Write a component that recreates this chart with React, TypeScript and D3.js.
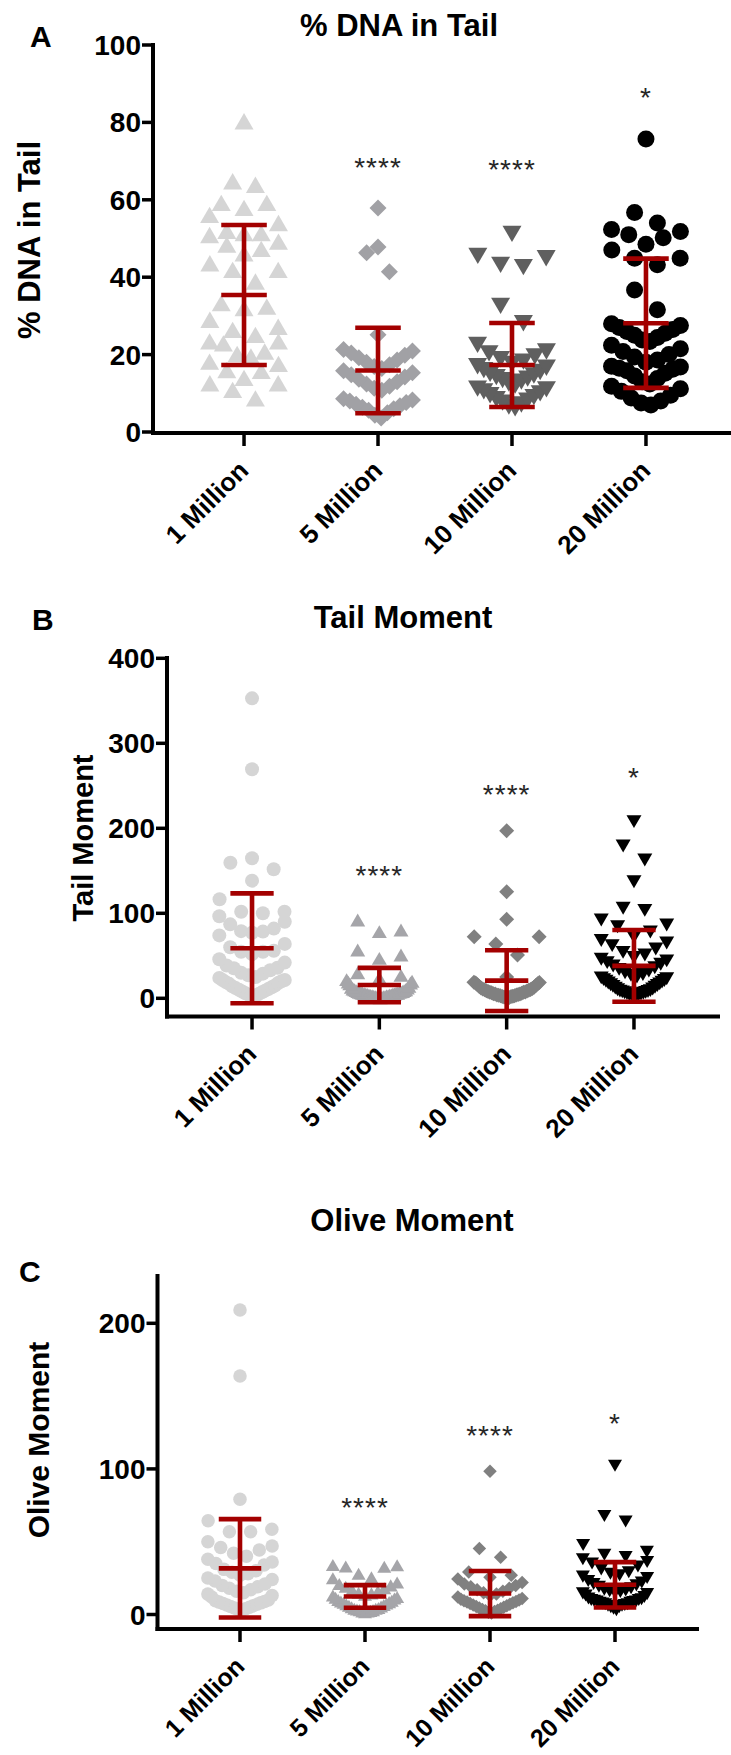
import React, { useEffect } from 'react';
import * as d3 from 'd3';

const groups = ['1 Million', '5 Million', '10 Million', '20 Million'];
const stars = ['', '****', '****', '*'];

// % DNA in tail, one array per seeding density
const dnaTail1M = [80.3, 64.8, 63.9, 59.2, 59.2, 57.9, 56.1, 54.0, 52.0, 51.4, 51.4, 50.9, 49.2, 48.4, 47.3, 46.2, 43.6, 41.9, 41.9, 38.9, 33.3, 32.4, 32.0, 29.0, 27.2, 26.4, 25.1, 23.4, 23.4, 22.9, 20.8, 20.2, 19.5, 18.2, 17.6, 16.0, 15.8, 14.0, 12.6, 12.6, 10.9, 8.7];
const dnaTail5M = [57.9, 47.8, 46.3, 41.4, 25.1, 21.3, 20.9, 20.4, 19.8, 19.2, 18.6, 18.0, 17.4, 16.9, 16.4, 15.8, 15.3, 14.8, 14.2, 13.6, 13.0, 12.4, 11.8, 11.3, 10.8, 8.6, 8.3, 8.0, 7.6, 7.2, 6.8, 6.4, 6.0, 5.6, 5.0, 4.3, 3.6];
const dnaTail10M = [51.2, 45.5, 44.9, 43.2, 42.6, 32.6, 28.1, 22.5, 20.8, 20.3, 19.5, 18.8, 18.2, 17.6, 17.0, 16.6, 16.0, 15.5, 15.0, 14.6, 14.2, 13.8, 13.4, 13.0, 12.5, 12.0, 11.2, 11.0, 10.5, 10.0, 9.5, 9.0, 8.5, 8.1, 7.6, 7.1, 6.6, 6.1];
const dnaTail20M = [75.7, 56.7, 54.0, 52.3, 51.8, 51.0, 50.2, 48.5, 47.0, 44.9, 44.9, 43.2, 36.7, 31.6, 28.0, 27.5, 27.0, 26.5, 26.0, 25.5, 25.0, 24.4, 23.8, 23.4, 22.4, 21.5, 20.8, 20.0, 19.4, 18.6, 18.0, 17.0, 16.8, 16.5, 16.2, 15.8, 15.2, 14.5, 13.8, 13.0, 12.4, 11.8, 11.2, 10.5, 9.5, 8.8, 8.0, 7.5, 7.0];
const dnaTailMean = [35.4, 15.9, 17.3, 28.1];
const dnaTailSD = [18.1, 11.05, 10.85, 16.7];
const dnaTailStarsAt = [0, 70, 69.4, 88];
const dnaTailTicks = [0, 20, 40, 60, 80, 100];

// Tail moment
const tailMoment1M = [352.9, 269.4, 164.7, 159.5, 151.8, 138.4, 116.5, 101.9, 101.9, 100.0, 96.5, 90, 87, 82, 79, 78.5, 77.2, 74, 64, 60, 56, 54.8, 54.8, 52, 46, 42, 38.6, 36, 35.3, 33, 30, 29, 27, 25, 24, 21.5, 21.5, 20, 19, 18, 17, 15, 14, 13, 12, 11, 10, 9, 8, 7, 6, 5, 4, 3, 2];
const tailMoment5M = [92.1, 80.4, 78.4, 56.8, 51.0, 47.0, 30, 27, 24, 22, 20, 19, 18, 17, 14, 13, 12, 11, 10, 10, 9, 9, 8, 8, 7.5, 7, 7, 6.5, 6, 6, 6, 5.5, 5, 5, 5, 4.5, 4, 4, 4, 3.5, 3, 3, 3, 2.5, 2, 2, 2, 1.5, 1, 1, 0.5];
const tailMoment10M = [197.2, 125.4, 92.9, 72.5, 72.5, 63.9, 50.9, 25, 19, 18.5, 18, 17, 16, 15, 14, 13, 12, 11.5, 11, 10.5, 10, 9.5, 9, 8.5, 8, 7.5, 7, 7, 6.5, 6, 5.5, 5, 5, 4.5, 4, 4, 3.5, 3, 3, 2.5, 2, 2, 1.5, 1, 1, 0.5];
const tailMoment20M = [207.8, 179.2, 162.7, 137.2, 105.9, 103.5, 92.1, 86.2, 84.2, 78, 72, 68, 65, 62, 58, 54, 51, 48, 46, 44, 42, 40, 38, 36, 34, 32, 30, 28, 27, 25, 24, 23, 22, 21, 20, 19, 18, 17, 16, 15, 14, 13, 12, 11, 10, 9, 8.5, 8, 7.5, 7, 6.5, 6, 5.5, 5, 4.5, 4, 3.5, 3, 2.5];
const tailMomentMean = [58.8, 15.6, 20.8, 38.1];
const tailMomentSD = [64.7, 20.2, 35.7, 42.2];
const tailMomentStarsAt = [0, 152, 248, 267.4];
const tailMomentTicks = [0, 100, 200, 300, 400];

// Olive moment
const olive1M = [209.1, 163.8, 79.1, 64.4, 58.5, 56.9, 56.9, 50, 47, 46, 44.3, 42, 40, 38, 36, 35, 34, 31, 30, 29, 28, 27, 25, 24, 23, 21, 20, 19, 18, 17, 16, 15, 14, 13, 12, 10, 9.5, 9, 8.5, 8, 7.5, 7, 6.5, 6, 5.5, 5, 4.5, 4, 3.5, 3];
const olive5M = [34, 33.8, 33, 32.8, 28, 25.5, 24.9, 22, 21, 20, 19, 18, 17, 16, 15, 14.5, 13.5, 13, 12, 11.5, 11, 10, 9.5, 9, 8.5, 8, 7.5, 7, 6.5, 6, 5.5, 5, 4.5, 4, 4, 3.5, 3, 3, 2.5, 2, 2, 1.5];
const olive10M = [98.4, 45.4, 39.4, 29.2, 26.9, 25.5, 24.4, 22, 21, 20, 19, 18, 17, 16, 15, 14, 13, 12, 11, 10.5, 10, 9.5, 9, 8.5, 8, 7.5, 7, 6.5, 6, 5.5, 5, 4.5, 4, 3.5, 3, 2.5, 2, 1.5, 1];
const olive20M = [102.2, 67.7, 63.9, 47.7, 43, 41, 39.5, 38, 36, 35, 33, 31, 29, 28, 27, 26, 25, 23, 22, 21, 20, 19, 18, 17, 16.5, 16, 15.5, 15, 14.5, 14, 13, 12, 11, 10.5, 10, 10, 9.5, 9, 9, 8.5, 8, 8, 7.5, 7, 7, 6.5, 6, 6, 5, 5, 4, 3];
const oliveMean = [31.7, 12.4, 14.4, 20.4];
const oliveSD = [33.8, 7.8, 15.5, 15.6];
const oliveStarsAt = [0, 78, 127.4, 135.6];
const oliveTicks = [0, 100, 200];

const LIGHT = '#d5d5d5';
const RED = '#a30000';
const FONT = '"Liberation Sans", Arial, Helvetica, sans-serif';

type Shape = 'circle' | 'triUp' | 'triDown' | 'diamond';

// custom d3 symbol types; "size" is the marker width in px
function markerType(shape: Shape) {
  return {
    draw(ctx: any, size: number) {
      const r = size / 2;
      if (shape === 'circle') {
        ctx.moveTo(r, 0);
        ctx.arc(0, 0, r, 0, 2 * Math.PI);
      } else if (shape === 'diamond') {
        ctx.moveTo(0, -r);
        ctx.lineTo(r, 0);
        ctx.lineTo(0, r);
        ctx.lineTo(-r, 0);
        ctx.closePath();
      } else {
        const h = size * 0.86;
        const s = shape === 'triUp' ? 1 : -1;
        ctx.moveTo(0, -s * h / 2);
        ctx.lineTo(r, s * h / 2);
        ctx.lineTo(-r, s * h / 2);
        ctx.closePath();
      }
    },
  };
}

// Prism-style column scatter: values are grouped into rows of similar height,
// each row is spread sideways with the smallest values in the middle.
function columnScatter(values: number[], y: (v: number) => number, rowH: number, step: number, maxHalf: number) {
  const sorted = [...values].sort((a, b) => a - b);
  const rows: number[][] = [];
  let cur: number[] = [];
  let start = 0;
  for (const v of sorted) {
    const py = y(v);
    if (cur.length && start - py < rowH) cur.push(v);
    else {
      if (cur.length) rows.push(cur);
      cur = [v];
      start = py;
    }
  }
  if (cur.length) rows.push(cur);
  const out: { v: number; dx: number }[] = [];
  for (const row of rows) {
    const n = row.length;
    const s = n > 1 ? Math.min(step, (2 * maxHalf) / (n - 1)) : 0;
    const slots = d3.range(n).map((i) => (i - (n - 1) / 2) * s);
    const order = d3.range(n).sort((a, b) => Math.abs(slots[a]) - Math.abs(slots[b]) || slots[b] - slots[a]);
    row.forEach((v, k) => out.push({ v, dx: slots[order[k]] }));
  }
  return out;
}

const panels = [
  {
    letter: 'A', letterPos: [30, 47], title: '% DNA in Tail', titlePos: [399, 36],
    yTitle: '% DNA in Tail', yTitlePos: [40, 240], yTitleSize: 31, labelSize: 26,
    series: [dnaTail1M, dnaTail5M, dnaTail10M, dnaTail20M],
    means: dnaTailMean, sds: dnaTailSD, starsAt: dnaTailStarsAt, ticks: dnaTailTicks,
    shapes: ['triUp', 'diamond', 'triDown', 'circle'] as Shape[],
    colors: [LIGHT, '#a1a1a5', '#5f5f5f', '#000'],
    sizes: [19, 17, 19, 17],
    yDomain: [0, 100], yPix: [432, 45],
    axisX: 153, axisTop: 45, axisY: 433, axisRight: 740, xRange: [155.6, 734.4], rowH: 20,
  },
  {
    letter: 'B', letterPos: [32, 630], title: 'Tail Moment', titlePos: [403, 628],
    yTitle: 'Tail Moment', yTitlePos: [93, 838], yTitleSize: 29, labelSize: 26,
    series: [tailMoment1M, tailMoment5M, tailMoment10M, tailMoment20M],
    means: tailMomentMean, sds: tailMomentSD, starsAt: tailMomentStarsAt, ticks: tailMomentTicks,
    shapes: ['circle', 'triUp', 'diamond', 'triDown'] as Shape[],
    colors: [LIGHT, '#a5a5a9', '#808080', '#000'],
    sizes: [14, 15, 15, 15],
    yDomain: [0, 400], yPix: [998.3, 658.3],
    axisX: 167, axisTop: 658, axisY: 1016.5, axisRight: 720, xRange: [168, 718], rowH: 19,
  },
  {
    letter: 'C', letterPos: [19, 1282], title: 'Olive Moment', titlePos: [412, 1231],
    yTitle: 'Olive Moment', yTitlePos: [49, 1440], yTitleSize: 30, labelSize: 25,
    series: [olive1M, olive5M, olive10M, olive20M],
    means: oliveMean, sds: oliveSD, starsAt: oliveStarsAt, ticks: oliveTicks,
    shapes: ['circle', 'triUp', 'diamond', 'triDown'] as Shape[],
    colors: [LIGHT, '#a5a5a9', '#808080', '#000'],
    sizes: [13.5, 14, 13.5, 14],
    yDomain: [0, 200], yPix: [1614.5, 1323.3],
    axisX: 157.5, axisTop: 1276, axisY: 1629, axisRight: 699, xRange: [157.5, 697.5], rowH: 17,
  },
];

function Panel({ p }: { p: (typeof panels)[number] }) {
  const y = d3.scaleLinear().domain(p.yDomain).range(p.yPix);
  const x = d3.scalePoint<string>().domain(groups).range(p.xRange as [number, number]).padding(0.66);
  const catStep = x.step();
  const half = catStep * 0.17;
  const spread = catStep * 0.17;
  const maxHalf = catStep * 0.257;

  return (
    <g fontFamily={FONT}>
      <text x={p.letterPos[0]} y={p.letterPos[1]} fontSize={30} fontWeight="bold">{p.letter}</text>
      <text x={p.titlePos[0]} y={p.titlePos[1]} fontSize={31} fontWeight="bold" textAnchor="middle">{p.title}</text>
      <text transform={`translate(${p.yTitlePos[0]},${p.yTitlePos[1]}) rotate(-90)`} fontSize={p.yTitleSize} fontWeight="bold" textAnchor="middle">{p.yTitle}</text>

      {/* data points */}
      {p.series.map((vals, i) => {
        const d = d3.symbol().type(markerType(p.shapes[i]) as any).size(p.sizes[i])() as string;
        const cx = x(groups[i]) as number;
        return (
          <g key={i} fill={p.colors[i]}>
            {columnScatter(vals, y, p.rowH, spread, maxHalf).map((pt, k) => (
              <path key={k} d={d} transform={`translate(${cx + pt.dx},${y(pt.v)})`} />
            ))}
          </g>
        );
      })}

      {/* mean ± SD */}
      {p.means.map((m, i) => {
        const cx = x(groups[i]) as number;
        const top = y(m + p.sds[i]);
        const mid = y(m);
        const bot = y(m - p.sds[i]);
        return (
          <g key={i} stroke={RED} strokeWidth={4.6}>
            <line x1={cx} x2={cx} y1={top} y2={bot} />
            {[top, mid, bot].map((yy, k) => (
              <line key={k} x1={cx - half} x2={cx + half} y1={yy} y2={yy} />
            ))}
          </g>
        );
      })}

      {/* significance */}
      {stars.map((s, i) =>
        s ? (
          <text key={i} x={x(groups[i])} y={y(p.starsAt[i]) + 16} fontSize={28} fill="#262626" textAnchor="middle" letterSpacing={1}>
            {s}
          </text>
        ) : null
      )}

      {/* axes */}
      <g stroke="#000" fill="none">
        <line x1={p.axisX} x2={p.axisX} y1={p.axisTop - 2} y2={p.axisY + 2} strokeWidth={4} />
        <line x1={p.axisX - 2} x2={p.axisRight} y1={p.axisY} y2={p.axisY} strokeWidth={4} />
        {p.ticks.map((t) => (
          <line key={t} x1={p.axisX - 11} x2={p.axisX} y1={y(t)} y2={y(t)} strokeWidth={3.5} />
        ))}
        {groups.map((g) => (
          <line key={g} x1={x(g)} x2={x(g)} y1={p.axisY} y2={p.axisY + 13} strokeWidth={3.5} />
        ))}
      </g>
      {p.ticks.map((t) => (
        <text key={t} x={p.axisX - 12} y={y(t)} dy="0.36em" fontSize={28} fontWeight="bold" textAnchor="end">{t}</text>
      ))}
      {groups.map((g) => (
        <text key={g} transform={`translate(${(x(g) as number) + 6},${p.axisY + 39}) rotate(-45)`} fontSize={p.labelSize} fontWeight="bold" textAnchor="end">{g}</text>
      ))}
    </g>
  );
}

export default function App() {
  useEffect(() => {
    document.body.style.margin = '0';
  }, []);
  return (
    <svg width={731} height={1755} viewBox="0 0 731 1755" style={{ position: 'absolute', left: 0, top: 0, background: '#fff' }}>
      <rect width={731} height={1755} fill="#fff" />
      {panels.map((p) => (
        <Panel key={p.letter} p={p} />
      ))}
    </svg>
  );
}
